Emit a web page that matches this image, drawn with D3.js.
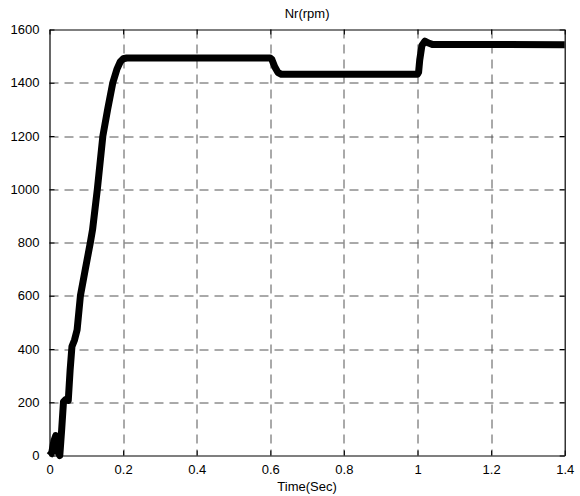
<!DOCTYPE html>
<html>
<head>
<meta charset="utf-8">
<script src="https://cdn.jsdelivr.net/npm/d3@7"></script>
<style>
  body { margin: 0; background: #fff; }
  svg { display: block; font-family: "Liberation Sans", Arial, sans-serif; }
</style>
</head>
<body>
<svg id="chart" width="580" height="496"></svg>
<script>
// speed trace (time in s, speed in rpm)
const timeSec = [0, 0.006, 0.012, 0.017, 0.020, 0.024, 0.028, 0.033, 0.038, 0.044, 0.051, 0.056, 0.061, 0.068,
  0.075, 0.084, 0.097, 0.111, 0.117, 0.130, 0.145, 0.158, 0.172, 0.183, 0.192, 0.200, 0.210,
  0.600, 0.604, 0.612, 0.621, 0.630, 1.000, 1.003, 1.006, 1.012, 1.020, 1.030, 1.040, 1.400];
const speedRpm = [0, 10, 55, 75, 60, 10, 0, 96, 202, 210, 207, 320, 409, 434,
  472, 600, 697, 800, 848, 1000, 1200, 1300, 1400, 1450, 1478, 1490, 1493,
  1493, 1488, 1460, 1438, 1432, 1432, 1440, 1485, 1540, 1556, 1549, 1544, 1543];

const xTicks = [0, 0.2, 0.4, 0.6, 0.8, 1, 1.2, 1.4];
const yTicks = [0, 200, 400, 600, 800, 1000, 1200, 1400, 1600];
const titleText = "Nr(rpm)";
const xLabel = "Time(Sec)";

const margin = { left: 49.5, right: 15.3, top: 29.5, bottom: 40.5 };
const width = 580, height = 496;
const iw = width - margin.left - margin.right;
const ih = height - margin.top - margin.bottom;

const svg = d3.select("#chart");
const g = svg.append("g").attr("transform", `translate(${margin.left},${margin.top})`);

const x = d3.scaleLinear().domain([0, 1.4]).range([0, iw]);
const y = d3.scaleLinear().domain([0, 1600]).range([ih, 0]);

// dashed grid
g.append("g")
  .selectAll("line")
  .data(xTicks.slice(1, -1))
  .join("line")
  .attr("x1", d => Math.round(x(d)) + 0.5)
  .attr("x2", d => Math.round(x(d)) + 0.5)
  .attr("y1", 0).attr("y2", ih)
  .attr("stroke", "#555")
  .attr("stroke-dasharray", "9,6");
g.append("g")
  .selectAll("line")
  .data(yTicks.slice(1, -1))
  .join("line")
  .attr("y1", d => Math.round(y(d)) + 0.5)
  .attr("y2", d => Math.round(y(d)) + 0.5)
  .attr("x1", 0).attr("x2", iw)
  .attr("stroke", "#555")
  .attr("stroke-dasharray", "9,6");

// the speed line
g.append("path")
  .datum(timeSec.map((t, i) => [t, speedRpm[i]]))
  .attr("fill", "none")
  .attr("stroke", "black")
  .attr("stroke-width", 7)
  .attr("stroke-linejoin", "round")
  .attr("d", d3.line().x(d => x(d[0])).y(d => y(d[1])));

// axes with inward ticks
const xAxis = g.append("g")
  .attr("transform", `translate(0,${ih})`)
  .call(d3.axisBottom(x).tickValues(xTicks).tickFormat(d3.format("~g")).tickSizeInner(-5).tickSizeOuter(0).tickPadding(9));
const xTop = g.append("g")
  .call(d3.axisTop(x).tickValues(xTicks).tickFormat("").tickSizeInner(-5).tickSizeOuter(0));
const yAxis = g.append("g")
  .call(d3.axisLeft(y).tickValues(yTicks).tickFormat(d3.format("d")).tickSizeInner(-5).tickSizeOuter(0).tickPadding(10));
const yRight = g.append("g")
  .attr("transform", `translate(${iw},0)`)
  .call(d3.axisRight(y).tickValues(yTicks).tickFormat("").tickSizeInner(-5).tickSizeOuter(0));

[xAxis, xTop, yAxis, yRight].forEach(a => {
  a.selectAll(".domain").attr("stroke", "black").attr("stroke-width", 1.2);
  a.selectAll(".tick line").attr("stroke", "black");
  a.selectAll("text").attr("fill", "black").style("font-size", "13px").style("font-family", "'Liberation Sans', Arial, sans-serif");
});

svg.append("text")
  .attr("x", margin.left + iw / 2)
  .attr("y", 18)
  .attr("text-anchor", "middle")
  .style("font-size", "13px")
  .text(titleText);

svg.append("text")
  .attr("x", margin.left + iw / 2)
  .attr("y", 491)
  .attr("text-anchor", "middle")
  .style("font-size", "13px")
  .text(xLabel);
</script>
</body>
</html>
